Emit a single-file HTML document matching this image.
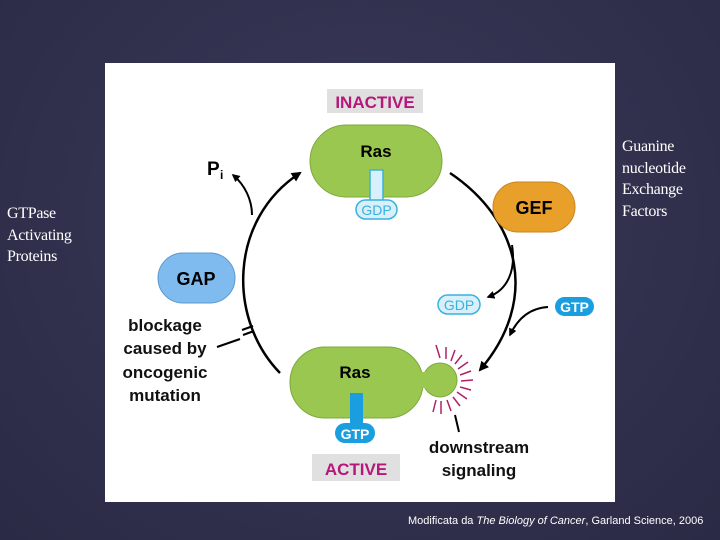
<!DOCTYPE html>
<html><head><meta charset="utf-8"><style>
body{margin:0;width:720px;height:540px;overflow:hidden;background:radial-gradient(ellipse at 50% 40%,#3a3a5a,#2a2a45);font-family:"Liberation Sans",sans-serif}
.side{position:absolute;color:#fff;font-family:"Liberation Serif",serif;font-size:16px;line-height:21.5px;letter-spacing:-0.3px}
</style></head><body>
<div class="side" style="left:7px;top:203px">GTPase<br>Activating<br>Proteins</div>
<div class="side" style="left:622px;top:136px">Guanine<br>nucleotide<br>Exchange<br>Factors</div>
<div style="position:absolute;left:408px;top:515px;color:#fff;font-size:11px">Modificata da <i>The Biology of Cancer</i>, Garland Science, 2006</div>
<svg width="720" height="540" style="position:absolute;left:0;top:0" font-family="Liberation Sans, sans-serif" font-weight="bold">
<defs><marker id="a" viewBox="0 0 10 10" refX="8" refY="5" markerWidth="4" markerHeight="4" orient="auto"><path d="M0 0L10 5L0 10z" fill="#000"/></marker></defs>
<rect x="105" y="63" width="510" height="439" fill="#fff"/>
<rect x="327" y="89" width="96" height="24" fill="#e0e0e0"/>
<text x="375" y="108" text-anchor="middle" font-size="17" fill="#b5177a">INACTIVE</text>
<rect x="312" y="454" width="88" height="27" fill="#e0e0e0"/>
<text x="356" y="475" text-anchor="middle" font-size="17" fill="#b5177a">ACTIVE</text>
<path d="M280 373 C 228 320 228 220 300 173" fill="none" stroke="#000" stroke-width="2.5" marker-end="url(#a)"/>
<path d="M450 173 C 520 220 540 300 480 370" fill="none" stroke="#000" stroke-width="2.5" marker-end="url(#a)"/>
<path d="M252 215 C 252 200 245 185 233 175" fill="none" stroke="#000" stroke-width="2" marker-end="url(#a)"/>
<path d="M512 245 C 516 270 508 290 488 297" fill="none" stroke="#000" stroke-width="2" marker-end="url(#a)"/>
<path d="M548 307 C 530 308 518 318 510 335" fill="none" stroke="#000" stroke-width="2" marker-end="url(#a)"/>
<text x="207" y="175" font-size="19" fill="#000">P</text><text x="220" y="179" font-size="12" fill="#000">i</text>
<rect x="310" y="125" width="132" height="72" rx="36" fill="#9ac74f" stroke="#7fa83e"/>
<text x="376" y="157" text-anchor="middle" font-size="17">Ras</text>
<rect x="370" y="170" width="13" height="32" fill="#d8f0fa" stroke="#3ab0e0" stroke-width="1.5"/>
<rect x="356" y="200" width="41" height="19" rx="9.5" fill="#d8f0fa" stroke="#3ab0e0" stroke-width="1.5"/>
<text x="376.5" y="215" text-anchor="middle" font-size="14" font-weight="normal" fill="#3ab0e0">GDP</text>
<rect x="493" y="182" width="82" height="50" rx="25" fill="#e9a02a" stroke="#c88520"/>
<text x="534" y="214" text-anchor="middle" font-size="18">GEF</text>
<rect x="158" y="253" width="77" height="50" rx="25" fill="#7fbbee" stroke="#5a98d0"/>
<text x="196" y="285" text-anchor="middle" font-size="18">GAP</text>
<rect x="438" y="295" width="42" height="19" rx="9.5" fill="#d8f0fa" stroke="#3ab0e0" stroke-width="1.5"/>
<text x="459" y="310" text-anchor="middle" font-size="14" font-weight="normal" fill="#3ab0e0">GDP</text>
<rect x="555" y="297" width="39" height="19" rx="9.5" fill="#1a9ee0"/>
<text x="574.5" y="312" text-anchor="middle" font-size="14" fill="#fff">GTP</text>
<text font-size="17" fill="#111" text-anchor="middle"><tspan x="165" y="331">blockage</tspan><tspan x="165" y="354">caused by</tspan><tspan x="165" y="378">oncogenic</tspan><tspan x="165" y="401">mutation</tspan></text>
<line x1="217" y1="347" x2="240" y2="339" stroke="#000" stroke-width="2"/>
<line x1="242" y1="330" x2="253" y2="326" stroke="#000" stroke-width="2"/>
<line x1="243" y1="335" x2="254" y2="331" stroke="#000" stroke-width="2"/>
<g stroke="#b0206a" stroke-width="1.5">
<line x1="440" y1="358" x2="436" y2="345"/><line x1="446" y1="359" x2="446" y2="347"/><line x1="451" y1="361" x2="455" y2="350"/><line x1="455" y1="364" x2="462" y2="355"/><line x1="458" y1="369" x2="468" y2="362"/><line x1="460" y1="375" x2="471" y2="371"/><line x1="461" y1="381" x2="473" y2="380"/><line x1="460" y1="387" x2="471" y2="390"/><line x1="457" y1="392" x2="467" y2="399"/><line x1="453" y1="397" x2="460" y2="406"/><line x1="447" y1="400" x2="451" y2="411"/><line x1="441" y1="401" x2="441" y2="414"/><line x1="436" y1="400" x2="433" y2="412"/>
</g>
<circle cx="440" cy="380" r="17" fill="#9ac74f" stroke="#7fa83e"/>
<rect x="290" y="347" width="133" height="71" rx="35" fill="#9ac74f" stroke="#7fa83e"/>
<rect x="415" y="372" width="15" height="16" fill="#9ac74f"/>
<text x="355" y="378" text-anchor="middle" font-size="17">Ras</text>
<rect x="350" y="393" width="13" height="32" fill="#1a9ee0"/>
<rect x="335" y="423" width="40" height="20" rx="10" fill="#1a9ee0"/>
<text x="355" y="439" text-anchor="middle" font-size="14" fill="#fff">GTP</text>
<line x1="455" y1="415" x2="459" y2="432" stroke="#000" stroke-width="2"/>
<text font-size="17" fill="#111" text-anchor="middle"><tspan x="479" y="453">downstream</tspan><tspan x="479" y="476">signaling</tspan></text>
</svg>
</body></html>
